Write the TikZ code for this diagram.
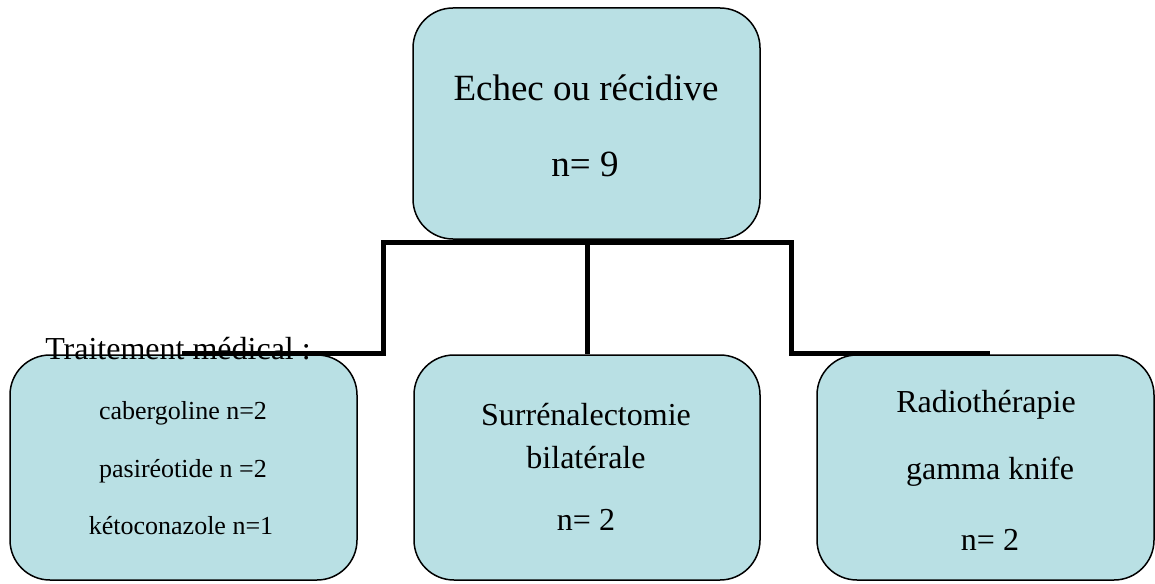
\documentclass[tikz,border=0pt]{standalone}
\usepackage{fontspec}
\setmainfont{Liberation Serif}
\definecolor{boxfill}{RGB}{185,224,228}
\tikzset{
  box/.style={draw=black, line width=1.5pt, fill=boxfill, rounded corners=40pt, inner sep=0pt},
  conn/.style={draw=black, line width=5pt, line cap=butt, line join=miter},
  big/.style={inner sep=0pt, anchor=base, font=\fontsize{37}{44}\selectfont},
  mid/.style={inner sep=0pt, anchor=base, font=\fontsize{32}{38}\selectfont},
  small/.style={inner sep=0pt, anchor=base, font=\fontsize{26}{31}\selectfont}
}
\begin{document}
\begin{tikzpicture}[x=1pt, y=-1pt]
\useasboundingbox (0,0) rectangle (1155,583);
\clip (0,0) rectangle (1155,583);
% boxes
\node[box, minimum width=347pt, minimum height=231pt] (top) at (586.5,123.5) {};
\node[box, minimum width=347pt, minimum height=225pt] (left) at (183.5,467.5) {};
\node[box, minimum width=346pt, minimum height=225pt] (middle) at (587,467.5) {};
\node[box, minimum width=337pt, minimum height=225pt] (right) at (985.5,467.5) {};
% connectors
\coordinate (jl) at (383,242);
\coordinate (jr) at (791,242);
\coordinate (lend) at (182,353);
\coordinate (rend) at (990,353);
\draw[conn] (lend) -| (jl) -- (jr) |- (rend);
\draw[conn] (middle.north |- jl) -- (middle.north);
% texts
\node[big] (t1) at (586,101) {Echec ou récidive};
\node[big] (t2) at (585,176) {n= 9};
\node[mid] (l0) at (178,359) {Traitement médical :};
\node[small] (l1) at (183,419) {cabergoline n=2};
\node[small] (l2) at (183,477) {pasiréotide n =2};
\node[small] (l3) at (181,534) {kétoconazole n=1};
\node[mid] (m1) at (586,425) {Surrénalectomie};
\node[mid] (m2) at (586,468) {bilatérale};
\node[mid] (m3) at (586,530) {n= 2};
\node[mid] (r1) at (986,412) {Radiothérapie};
\node[mid] (r2) at (990,479) {gamma knife};
\node[mid] (r3) at (990,550) {n= 2};
\end{tikzpicture}
\end{document}
